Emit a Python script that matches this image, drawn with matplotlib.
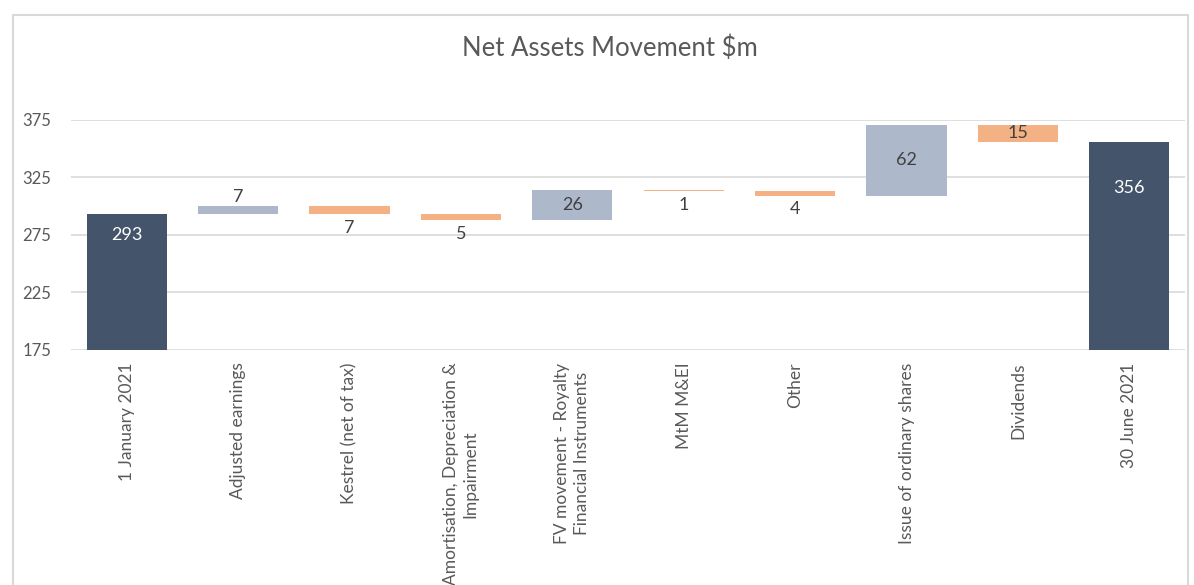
import matplotlib.pyplot as plt
import matplotlib.patches as mpatches

plt.rcParams['font.family'] = ['Lato', 'DejaVu Sans']

# Waterfall data
categories = [
    "1 January 2021", "Adjusted earnings", "Kestrel (net of tax)",
    "Amortisation, Depreciation &\nImpairment",
    "FV movement - Royalty\nFinancial Instruments",
    "MtM M&EI", "Other", "Issue of ordinary shares", "Dividends", "30 June 2021",
]
start_value = 293
changes = [7, -7, -5, 26, -1, -4, 62, -15]
end_value = 356
label_pos = ["top_in", "above", "below", "below", "center", "below", "below",
             "center", "center", "top_in"]

c_total = "#44546A"
c_up = "#ADB9CA"
c_down = "#F4B183"
txt = "#595959"

bottoms, heights, colors = [], [], []
bottoms.append(0); heights.append(start_value); colors.append(c_total)
level = start_value
for ch in changes:
    bottoms.append(min(level, level + ch))
    heights.append(abs(ch))
    colors.append(c_up if ch > 0 else c_down)
    level += ch
bottoms.append(0); heights.append(end_value); colors.append(c_total)

fig = plt.figure(figsize=(11.94, 5.85), dpi=100)
ax = fig.add_axes([71 / 1194, 1 - 350 / 585, (1185 - 71) / 1194, 230 / 585])

x = list(range(len(categories)))
ax.bar(x, heights, bottom=bottoms, color=colors, width=0.72, zorder=3)

ax.set_ylim(175, 375)
ax.set_xlim(-0.5, len(categories) - 0.5)
ax.set_yticks([175, 225, 275, 325, 375])
ax.grid(axis='y', color='#D9D9D9', linewidth=1.2, zorder=0)
for s in ax.spines.values():
    s.set_visible(False)
ax.tick_params(axis='y', length=0, labelsize=12, labelcolor=txt, pad=14)
ax.tick_params(axis='x', length=0, pad=9)
ax.set_xticks(x)
ax.set_xticklabels(categories, rotation=90, fontsize=12.5, color=txt,
                   ha='center', va='top', multialignment='center', linespacing=1.3)

# label offset in points for the inside-top labels
top_offsets = {0: 15, 9: 33}
vals = [start_value] + [abs(c) for c in changes] + [end_value]
for i, (b, h, v, p) in enumerate(zip(bottoms, heights, vals, label_pos)):
    if p == "top_in":
        ax.annotate(str(v), (i, b + h), xytext=(0, -top_offsets[i]), textcoords='offset points',
                    ha='center', va='center', color='white', fontsize=13, zorder=4)
    elif p == "above":
        ax.annotate(str(v), (i, b + h), xytext=(0, 1), textcoords='offset points',
                    ha='center', va='bottom', color='#404040', fontsize=13, zorder=4)
    elif p == "below":
        ax.annotate(str(v), (i, b), xytext=(0, -4), textcoords='offset points',
                    ha='center', va='top', color='#404040', fontsize=13, zorder=4)
    else:
        ax.text(i, b + h / 2, str(v), ha='center', va='center', color='#404040', fontsize=13, zorder=4)

fig.text(0.511, 1 - 48 / 585, "Net Assets Movement $m", ha='center', va='center',
         fontsize=18.5, color=txt)

border = mpatches.Rectangle((13 / 1194, -0.01), (1188 - 13) / 1194, 1 - 15 / 585 + 0.01,
                            transform=fig.transFigure, fill=False,
                            edgecolor='#D9D9D9', linewidth=1.5)
fig.patches.append(border)

fig.savefig("out.png", dpi=100)
